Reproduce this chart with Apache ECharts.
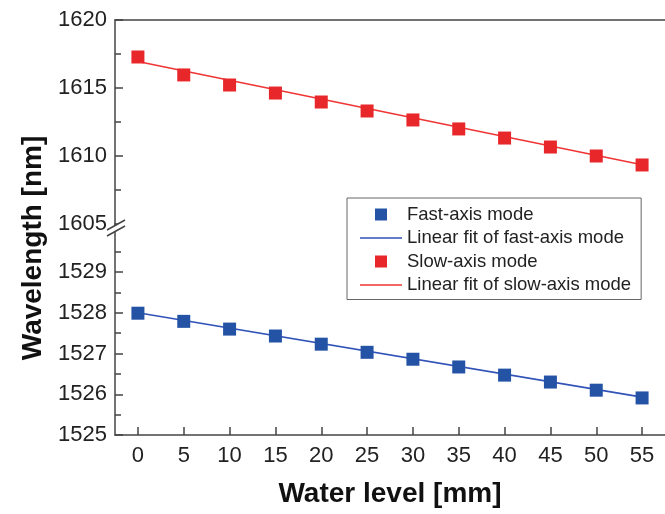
<!DOCTYPE html>
<html>
<head>
<meta charset="utf-8">
<script src="https://cdn.jsdelivr.net/npm/echarts@6/dist/echarts.min.js"></script>
<style>
html, body { margin: 0; padding: 0; background: #fff; }
#chart { width: 665px; height: 514px; }
</style>
</head>
<body>
<div id="chart"></div>
<script>
// water level (mm)
var waterLevel = [0, 5, 10, 15, 20, 25, 30, 35, 40, 45, 50, 55];
// measured wavelengths (nm)
var slowAxis = [1617.28, 1615.96, 1615.22, 1614.63, 1613.97, 1613.31, 1612.65, 1611.99, 1611.32, 1610.66, 1610.00, 1609.34];
var fastAxis = [1527.99, 1527.79, 1527.60, 1527.43, 1527.23, 1527.03, 1526.86, 1526.67, 1526.47, 1526.30, 1526.10, 1525.91];
// linear fit end points
var fitX = [0, 55];
var slowFit = [1616.95, 1609.35];
var fastFit = [1528.00, 1525.93];
// tick values
var xTicks = [0, 5, 10, 15, 20, 25, 30, 35, 40, 45, 50, 55];
var lowerTicks = [1525, 1526, 1527, 1528, 1529];
var lowerMinor = [1525.5, 1526.5, 1527.5, 1528.5, 1529.5];

function pairs(xs, ys) {
    return xs.map(function (x, i) { return [x, ys[i]]; });
}
function plain(v) { return String(v); }

var blue = '#2453a6';
var red = '#e8272b';
var axisCol = '#444';
var txtCol = '#222';
var font = 'Liberation Sans, Arial, sans-serif';

// legend icons: tiny corner dots keep the icon box at 42x14 so the marks keep their size
var squareIcon = 'path://M0,0h0.01v0.01h-0.01Z M15,1h12v12h-12Z M41.99,13.99h0.01v0.01h-0.01Z';
var lineIcon = 'path://M0,0h0.01v0.01h-0.01Z M0,6.2h42v1.6h-42Z M41.99,13.99h0.01v0.01h-0.01Z';

var myChart = echarts.init(document.getElementById('chart'));

var option = {
    animation: false,
    textStyle: { fontFamily: font },
    grid: [
        // upper panel (slow-axis)
        { left: 115, top: 20, right: -6, bottom: 290 },
        // lower panel (fast-axis)
        { left: 115, top: 224, right: -6, bottom: 79 }
    ],
    xAxis: [
        {
            type: 'value', gridIndex: 0, position: 'top', min: -2.5, max: 57.5,
            axisLine: { show: true, onZero: false, lineStyle: { color: axisCol, width: 1.5 } },
            axisTick: { show: false }, axisLabel: { show: false }, splitLine: { show: false }
        },
        {
            type: 'value', gridIndex: 1, position: 'bottom', min: -2.5, max: 57.5,
            name: 'Water level [mm]', nameLocation: 'middle', nameGap: 45,
            nameTextStyle: { fontSize: 28, fontWeight: 'bold', color: '#111', fontFamily: font },
            axisLine: { show: true, onZero: false, lineStyle: { color: axisCol, width: 1.5 } },
            axisTick: { show: true, inside: true, length: 8, customValues: xTicks, lineStyle: { color: axisCol, width: 1.5 } },
            axisLabel: { customValues: xTicks, fontSize: 22, color: txtCol, margin: 10, formatter: plain },
            splitLine: { show: false }
        }
    ],
    yAxis: [
        {
            type: 'value', gridIndex: 0, min: 1605, max: 1620, interval: 5,
            axisLine: { show: true, onZero: false, lineStyle: { color: axisCol, width: 1.5 } },
            axisTick: { show: true, inside: true, length: 8, lineStyle: { color: axisCol, width: 1.5 } },
            minorTick: { show: true, splitNumber: 2, length: 6, lineStyle: { color: axisCol, width: 1.5 } },
            axisLabel: { fontSize: 22, color: txtCol, margin: 8, formatter: plain },
            splitLine: { show: false }
        },
        {
            type: 'value', gridIndex: 1, position: 'left', min: 1525, max: 1530.18,
            axisLine: { show: true, onZero: false, lineStyle: { color: axisCol, width: 1.5 } },
            axisTick: { show: true, inside: true, length: 8, customValues: lowerTicks, lineStyle: { color: axisCol, width: 1.5 } },
            axisLabel: { customValues: lowerTicks, fontSize: 22, color: txtCol, margin: 8, formatter: plain },
            splitLine: { show: false }
        },
        {
            // minor ticks of the lower panel
            type: 'value', gridIndex: 1, position: 'left', offset: 0, min: 1525, max: 1530.18,
            axisLine: { show: false, onZero: false },
            axisTick: { show: true, inside: true, length: 6, customValues: lowerMinor, lineStyle: { color: axisCol, width: 1.5 } },
            axisLabel: { show: false },
            splitLine: { show: false }
        }
    ],
    legend: {
        orient: 'vertical', left: 347, top: 198,
        padding: [7, 10, 5, 13],
        itemWidth: 42, itemHeight: 14, itemGap: 4.5,
        backgroundColor: '#fff',
        borderColor: '#666', borderWidth: 1,
        textStyle: { fontSize: 18.5, color: txtCol, fontFamily: font },
        data: [
            { name: 'Fast-axis mode', icon: squareIcon },
            { name: 'Linear fit of fast-axis mode', icon: lineIcon },
            { name: 'Slow-axis mode', icon: squareIcon },
            { name: 'Linear fit of slow-axis mode', icon: lineIcon }
        ]
    },
    series: [
        {
            name: 'Fast-axis mode', type: 'scatter', xAxisIndex: 1, yAxisIndex: 1,
            symbol: 'rect', symbolSize: 13, z: 3,
            itemStyle: { color: blue, opacity: 1 },
            data: pairs(waterLevel, fastAxis)
        },
        {
            name: 'Linear fit of fast-axis mode', type: 'line', xAxisIndex: 1, yAxisIndex: 1,
            symbol: 'none', lineStyle: { color: '#3152b8', width: 1.6 }, itemStyle: { color: '#3152b8' },
            data: pairs(fitX, fastFit)
        },
        {
            name: 'Slow-axis mode', type: 'scatter', xAxisIndex: 0, yAxisIndex: 0,
            symbol: 'rect', symbolSize: 13, z: 3,
            itemStyle: { color: red, opacity: 1 },
            data: pairs(waterLevel, slowAxis)
        },
        {
            name: 'Linear fit of slow-axis mode', type: 'line', xAxisIndex: 0, yAxisIndex: 0,
            symbol: 'none', lineStyle: { color: '#f03535', width: 1.6 }, itemStyle: { color: '#f03535' },
            data: pairs(fitX, slowFit)
        }
    ],
    graphic: [
        {
            type: 'text', x: 33, y: 248, rotation: Math.PI / 2, z: 100,
            style: {
                text: 'Wavelength [nm]', font: 'bold 28px ' + font, fill: '#111',
                align: 'center', verticalAlign: 'middle'
            }
        },
        // axis break mark
        {
            type: 'polygon', z: 100,
            shape: { points: [[107, 230], [125, 220], [125, 226], [107, 236]] },
            style: { fill: '#fff' }
        },
        {
            type: 'line', z: 101,
            shape: { x1: 107, y1: 230, x2: 125, y2: 220 },
            style: { stroke: axisCol, lineWidth: 1.5 }
        },
        {
            type: 'line', z: 101,
            shape: { x1: 107, y1: 236, x2: 125, y2: 226 },
            style: { stroke: axisCol, lineWidth: 1.5 }
        }
    ]
};

myChart.setOption(option, true);
</script>
</body>
</html>
